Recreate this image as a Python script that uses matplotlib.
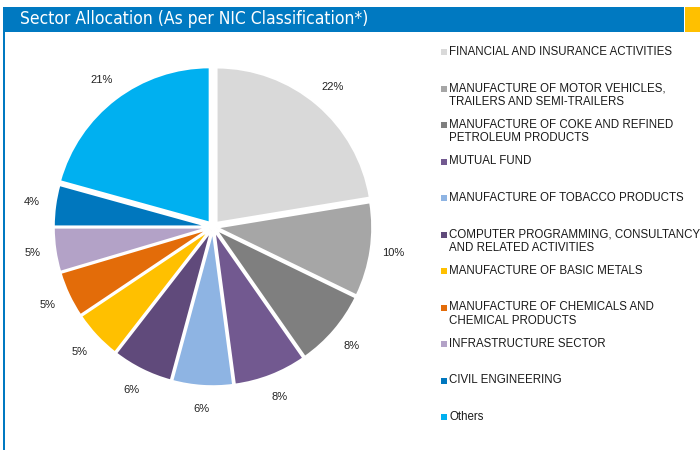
import matplotlib
matplotlib.use("Agg")
import matplotlib.pyplot as plt
from matplotlib.patches import Rectangle

categories = [
    "FINANCIAL AND INSURANCE ACTIVITIES",
    "MANUFACTURE OF MOTOR VEHICLES,\nTRAILERS AND SEMI-TRAILERS",
    "MANUFACTURE OF COKE AND REFINED\nPETROLEUM PRODUCTS",
    "MUTUAL FUND",
    "MANUFACTURE OF TOBACCO PRODUCTS",
    "COMPUTER PROGRAMMING, CONSULTANCY\nAND RELATED ACTIVITIES",
    "MANUFACTURE OF BASIC METALS",
    "MANUFACTURE OF CHEMICALS AND\nCHEMICAL PRODUCTS",
    "INFRASTRUCTURE SECTOR",
    "CIVIL ENGINEERING",
    "Others",
]
values = [22.4, 9.8, 8.1, 7.6, 6.3, 6.3, 5.1, 4.8, 4.6, 4.3, 20.7]
colors = ["#D9D9D9", "#A6A6A6", "#7F7F7F", "#725990", "#8EB4E3", "#604A7B",
          "#FFC000", "#E36C09", "#B3A2C7", "#0077BE", "#00B0F0"]
title = "Sector Allocation (As per NIC Classification*)"

W, H = 700, 450
fig = plt.figure(figsize=(7, 4.5), dpi=100)
fig.patch.set_facecolor("white")

# header bar
fig.patches.append(Rectangle((3 / W, 1 - 32 / H), (684 - 3) / W, 25 / H,
                             transform=fig.transFigure, facecolor="#0079C1",
                             edgecolor="none", zorder=0))
fig.patches.append(Rectangle((685 / W, 1 - 32 / H), 15 / W, 25 / H,
                             transform=fig.transFigure, facecolor="#FFC000",
                             edgecolor="none", zorder=0))
fig.patches.append(Rectangle((3 / W, 0), 2 / W, 1 - 32 / H,
                             transform=fig.transFigure, facecolor="#0079C1",
                             edgecolor="none", zorder=0))
fig.text(20 / W, 1 - 19.5 / H, title, color="white", fontsize=12.5,
         family="DejaVu Sans", fontstretch="condensed", va="center", ha="left")

# pie
cx, cy, half = 213, 227, 202
ax = fig.add_axes([(cx - half) / W, (H - cy - half) / H, 2 * half / W, 2 * half / H])
explode = [0.035, 0.025, 0.025, 0.025, 0.025, 0.025, 0.025, 0.025, 0.025, 0.025, 0.035]
wedges, texts, autotexts = ax.pie(
    values, colors=colors, startangle=90, counterclock=False, explode=explode,
    autopct="%.0f%%", pctdistance=1.15, radius=1.0,
    wedgeprops=dict(edgecolor="white", linewidth=1.5),
    textprops=dict(fontsize=8, family="Liberation Sans", color="#222222"))
ax.set_xlim(-1.3, 1.3)
ax.set_ylim(-1.3, 1.3)
ax.set_aspect("equal")
ax.axis("off")

# legend (manual layout to match the reference)
y0, step = 51.7, 36.5
for i, (lab, col) in enumerate(zip(categories, colors)):
    y = y0 + i * step
    fig.patches.append(Rectangle((441 / W, 1 - (y + 3.5) / H), 6 / W, 6 / H,
                                 transform=fig.transFigure, facecolor=col,
                                 edgecolor="none"))
    fig.text(449 / W, 1 - (y - 6) / H, lab, fontsize=8.3, family="Liberation Sans",
             color="#1a1a1a", va="top", ha="left", linespacing=1.15)

fig.savefig("out.png", dpi=100)
